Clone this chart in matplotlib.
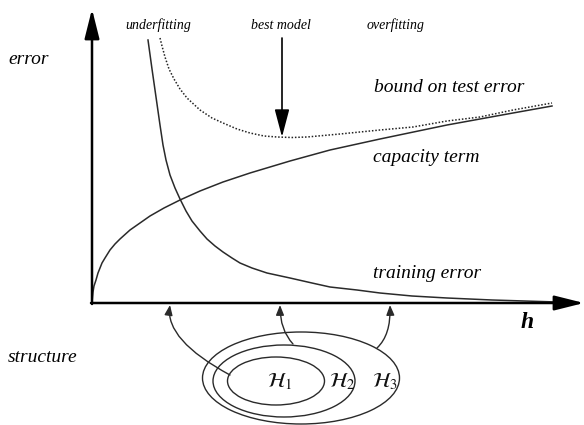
import matplotlib
matplotlib.use("Agg")
import matplotlib.pyplot as plt
from matplotlib.patches import FancyArrowPatch, Ellipse, ArrowStyle
from matplotlib.path import Path

plt.rcParams['mathtext.fontset'] = 'stix'

# ---- data (h = capacity, E = error; pixel-like units) ----
train_h = [56, 60, 64, 68, 71, 74, 78, 83, 88, 94, 100, 108, 115, 123, 131, 140, 148,
           160, 175, 198, 220, 238, 265, 288, 320, 355, 400, 465]
train_e = [263, 234, 206, 178, 158, 143, 128, 115, 104, 92, 82, 72, 64, 57, 51, 45, 40,
           35, 30, 25, 20, 16, 13, 10, 7, 5, 3, 1]

cap_h = [0, 0.5, 1, 2, 4, 6, 8, 10, 13, 18, 23, 28, 38, 48, 58, 72, 88, 108, 131, 158,
         198, 238, 288, 355, 421, 460]
cap_e = [0, 6, 11, 17, 23, 30, 35, 40, 45, 53, 59, 64, 73, 80, 87, 95, 103, 112, 121, 130,
         142, 153, 164, 178, 190, 197]

bound_h = [68, 70, 73, 77, 82, 88, 95, 108, 120, 131, 145, 158, 172, 185, 200, 215, 248,
           288, 321, 355, 388, 421, 460]
bound_e = [265, 257, 246, 234, 224, 214, 205, 193, 185, 180, 174, 170, 167, 166, 165.5, 166,
           169, 173, 176, 182, 186, 193, 200]

best_h = 190
best_top, best_tip = 265, 166

structures = ["$\\mathcal{H}_1$", "$\\mathcal{H}_2$", "$\\mathcal{H}_3$"]
ell_center = [(184, -78), (192, -78), (209, -75)]
ell_size = [(97, 48), (142, 72), (197, 92)]
label_pos = [(188, -79), (250, -79), (293, -79)]
# arrows from the nested structures to the h axis: start, control, end
arrow_paths = [
    [(138, -72), (73, -37), (78, -2)],
    [(201, -41), (188, -27), (188, -2)],
    [(285, -45), (299, -32), (298, -2)],
]

fig = plt.figure(figsize=(5.84, 4.25), dpi=100)
ax = fig.add_axes([0, 0, 1, 1])
ax.set_xlim(-92, 492)
ax.set_ylim(-122, 303)
ax.axis('off')

col = '#2a2a2a'
ax.plot(train_h, train_e, color=col, lw=1.1, zorder=2)
ax.plot(cap_h, cap_e, color=col, lw=1.1, zorder=2)
ax.plot(bound_h, bound_e, color='#222222', lw=1.1, ls=(0, (1.0, 1.2)), zorder=2)

# axes with arrows
big = ArrowStyle('-|>', head_length=18, head_width=4.5)
ax.add_patch(FancyArrowPatch((0, -1), (0, 294), arrowstyle=big, mutation_scale=1,
                             lw=1.8, color='black', shrinkA=0, shrinkB=0, zorder=3))
ax.add_patch(FancyArrowPatch((-1, 0), (492, 0), arrowstyle=big, mutation_scale=1,
                             lw=1.8, color='black', shrinkA=0, shrinkB=0, zorder=3))
# best model arrow
ax.add_patch(FancyArrowPatch((best_h, best_top), (best_h, best_tip),
                             arrowstyle=ArrowStyle('-|>', head_length=17, head_width=4.5),
                             mutation_scale=1, lw=1.2, color='black', shrinkA=0, shrinkB=0, zorder=3))

# structures
for (c, (w, hh)) in zip(ell_center, ell_size):
    ax.add_patch(Ellipse(c, w, hh, fill=False, lw=1.0, ec=col, zorder=2))
for s, p in zip(structures, label_pos):
    ax.text(p[0], p[1], s, fontsize=15, ha='center', va='center', color='#111')
small = ArrowStyle('-|>', head_length=6, head_width=2.4)
for pts in arrow_paths:
    path = Path(pts, [Path.MOVETO, Path.CURVE3, Path.CURVE3])
    ax.add_patch(FancyArrowPatch(path=path, arrowstyle=small, mutation_scale=1,
                                 lw=1.0, color=col, shrinkA=0, shrinkB=0, zorder=3))

serif = 'Liberation Serif'
ax.text(-84, 243, 'error', fontsize=14, family=serif, style='italic', ha='left', va='center')
ax.text(-84, -54, 'structure', fontsize=14, family=serif, style='italic', ha='left', va='center')
ax.text(66, 278, 'underfitting', fontsize=10, family=serif, style='italic', ha='center', va='center')
ax.text(189, 278, 'best model', fontsize=10, family=serif, style='italic', ha='center', va='center')
ax.text(304, 278, 'overfitting', fontsize=10, family=serif, style='italic', ha='center', va='center')
ax.text(282, 216, 'bound on test error', fontsize=14, family=serif, style='italic', ha='left', va='center')
ax.text(281, 146, 'capacity term', fontsize=14, family=serif, style='italic', ha='left', va='center')
ax.text(281, 29, 'training error', fontsize=14, family=serif, style='italic', ha='left', va='center')
ax.text(435, -19, 'h', fontsize=17, family=serif, style='italic', weight='bold', ha='center', va='center')

fig.savefig('out.png', dpi=100)
